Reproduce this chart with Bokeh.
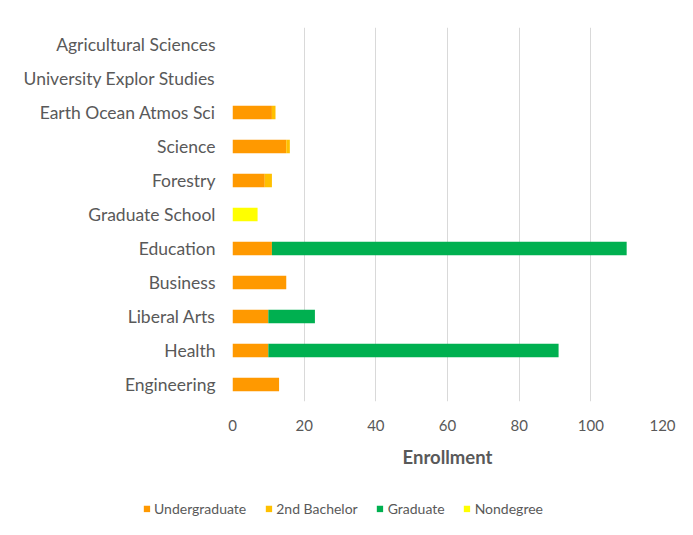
from bokeh.plotting import figure
from bokeh.layouts import column, row
from bokeh.models import ColumnDataSource, FactorRange, Range1d, Legend, LegendItem, FixedTicker
from bokeh.embed import file_html
from bokeh.resources import INLINE

categories = ["Agricultural Sciences", "University Explor Studies", "Earth Ocean Atmos Sci",
              "Science", "Forestry", "Graduate School", "Education", "Business",
              "Liberal Arts", "Health", "Engineering"]
undergraduate = [0, 0, 11, 15, 9, 0, 11, 15, 10, 10, 13]
second_bachelor = [0, 0, 1, 1, 2, 0, 0, 0, 0, 0, 0]
graduate = [0, 0, 0, 0, 0, 0, 99, 0, 13, 81, 0]
nondegree = [0, 0, 0, 0, 0, 7, 0, 0, 0, 0, 0]
series = ["Undergraduate", "2nd Bachelor", "Graduate", "Nondegree"]
colors = ["#FF9900", "#FFC000", "#00B050", "#FFFF00"]
x_ticks = [0, 20, 40, 60, 80, 100, 120]

FONT = "Lato"
TXT = "#595959"

src = ColumnDataSource(dict(cat=categories, Undergraduate=undergraduate,
                            **{"2nd Bachelor": second_bachelor},
                            Graduate=graduate, Nondegree=nondegree))

p = figure(width=685, height=480, output_backend="svg", toolbar_location=None,
           y_range=FactorRange(*reversed(categories)), x_range=Range1d(0, 120),
           min_border_left=232, min_border_right=23, min_border_top=27,
           min_border_bottom=79)

p.hbar_stack(series, y="cat", height=0.4, color=colors, source=src, line_color=None)

p.xgrid.grid_line_color = "#d9d9d9"
p.xgrid.grid_line_width = 1
p.ygrid.grid_line_color = None
p.outline_line_color = None
p.xaxis.ticker = FixedTicker(ticks=x_ticks)

for ax in (p.xaxis[0], p.yaxis[0]):
    ax.axis_line_color = None
    ax.major_tick_line_color = None
    ax.minor_tick_line_color = None
    ax.major_label_text_font = FONT
    ax.major_label_text_color = TXT
p.yaxis.major_label_text_font_size = "17.5px"
p.xaxis.major_label_text_font_size = "15px"
p.yaxis.major_label_standoff = 11
p.xaxis.major_label_standoff = 12
p.xaxis.axis_label = "Enrollment"
p.xaxis.axis_label_text_font = FONT
p.xaxis.axis_label_text_font_size = "18.5px"
p.xaxis.axis_label_text_font_style = "bold"
p.xaxis.axis_label_text_color = TXT
p.xaxis.axis_label_standoff = 12

# legend strip below the chart
lg = figure(width=685, height=56, output_backend="svg", toolbar_location=None,
            y_range=FactorRange(*reversed(categories)), x_range=Range1d(0, 120),
            x_axis_location=None, y_axis_location=None,
            min_border_left=0, min_border_right=0, min_border_top=0, min_border_bottom=0)
lg.outline_line_color = None
lg.grid.grid_line_color = None
leg_renderers = lg.hbar_stack(series, y="cat", height=0.4, color=colors, source=src,
                              line_color=None)
for r in leg_renderers:
    r.visible = False

legend = Legend(items=[LegendItem(label=s, renderers=[r]) for s, r in zip(series, leg_renderers)],
                orientation="horizontal", location="center",
                label_text_font=FONT, label_text_font_size="14px", label_text_color=TXT,
                glyph_width=8, glyph_height=8, spacing=18, label_standoff=4,
                border_line_color=None, background_fill_alpha=0,
                inactive_fill_alpha=0, margin=0, padding=2)
lg.add_layout(legend, "center")

open("out.html", "w").write(file_html(column(p, row(lg), spacing=0), INLINE))
